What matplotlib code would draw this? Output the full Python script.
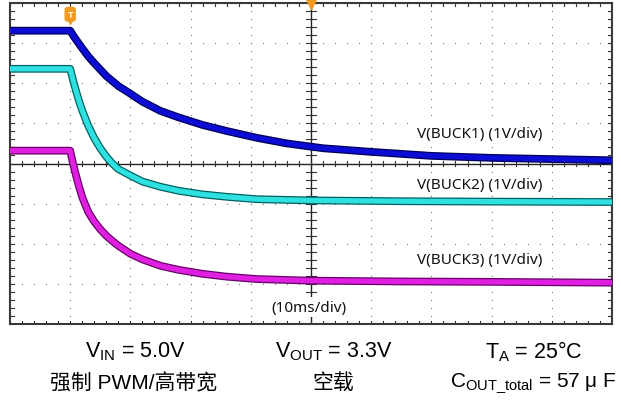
"""Buck output discharge waveform (scope capture style)"""
import matplotlib
matplotlib.use("Agg")
import matplotlib.pyplot as plt
import matplotlib.patheffects as pe
import numpy as np

plt.rcParams["font.family"] = ["Liberation Sans", "Noto Sans CJK SC", "DejaVu Sans"]
plt.rcParams["mathtext.fontset"] = "custom"
plt.rcParams["mathtext.rm"] = "Liberation Sans"
plt.rcParams["mathtext.it"] = "Liberation Sans:italic"

# ── traces: time (ms), level (divisions from bottom) ──
buck1_t = [-10, 0, 0.5, 1, 2, 3, 4, 5, 6, 8, 10, 12, 15, 18, 22, 26, 31, 36, 42, 50, 60, 70, 80, 90]
buck1_v = [7.31, 7.31, 7.19, 7.08, 6.87, 6.67, 6.50, 6.34, 6.18, 5.93, 5.74, 5.54, 5.31, 5.15,
           4.96, 4.81, 4.64, 4.50, 4.38, 4.29, 4.19, 4.14, 4.11, 4.08]

buck2_t = [-10, 0, 0.5, 1, 1.5, 2, 3, 4, 5, 6, 7, 8, 10, 12, 15, 18, 22, 26, 31, 40, 55, 70, 90]
buck2_v = [6.36, 6.36, 6.06, 5.79, 5.54, 5.32, 4.94, 4.63, 4.38, 4.17, 4.00, 3.86, 3.70, 3.55,
           3.42, 3.32, 3.23, 3.17, 3.11, 3.08, 3.06, 3.05, 3.04]

buck3_t = [-10, 0, 0.5, 1, 1.5, 2, 3, 4, 5, 6, 7, 8, 10, 12, 15, 18, 22, 26, 31, 40, 55, 70, 90]
buck3_v = [4.32, 4.32, 3.98, 3.68, 3.41, 3.16, 2.79, 2.55, 2.36, 2.20, 2.07, 1.95, 1.75, 1.61,
           1.45, 1.35, 1.25, 1.18, 1.12, 1.08, 1.06, 1.05, 1.03]

trace_labels = ["V(BUCK1) (1V/div)", "V(BUCK2) (1V/div)", "V(BUCK3) (1V/div)"]
time_label = "(10ms/div)"

cond_row1 = [r"V$_{\mathrm{IN}}$ = 5.0V", r"V$_{\mathrm{OUT}}$ = 3.3V", r"T$_{\mathrm{A}}$ = 25°C"]
cond_row2 = ["强制 PWM/高带宽", "空载", r"C$_{\mathrm{OUT\_total}}$ = 57 μ F"]

fig = plt.figure(figsize=(6.21, 4.02), dpi=100)
ax = fig.add_axes([10 / 621, 77 / 402, 602 / 621, 321 / 402])
ax.set_xlim(-10, 90)
ax.set_ylim(0, 8)
ax.set_xticks([])
ax.set_yticks([])
for s in ax.spines.values():
    s.set_color("#3a3a3a")
    s.set_linewidth(1.5)

# ── dotted graticule ──
minor_x = np.arange(-10, 90.01, 2)
minor_y = np.arange(0, 8.01, 0.2)
for gx in range(0, 90, 10):
    ax.scatter(np.full(len(minor_y), gx), minor_y, s=0.8, color="#777777", lw=0, zorder=1)
for gy in range(1, 8):
    ax.scatter(minor_x, np.full(len(minor_x), gy), s=0.8, color="#777777", lw=0, zorder=1)

# center cross with ticks
ax.axvline(40, color="#222222", lw=1.0, zorder=2)
ax.axhline(4, color="#222222", lw=1.0, zorder=2)
for mx in minor_x:
    ax.plot([mx, mx], [3.93, 4.07], color="#333333", lw=0.8, zorder=2)
    ax.plot([mx, mx], [0, 0.07], color="#333333", lw=0.8, zorder=2)
    ax.plot([mx, mx], [7.93, 8], color="#333333", lw=0.8, zorder=2)
for my in minor_y:
    ax.plot([39.2, 40.8], [my, my], color="#333333", lw=0.8, zorder=2)
    ax.plot([-10, -9.4], [my, my], color="#333333", lw=0.8, zorder=2)
    ax.plot([89.4, 90], [my, my], color="#333333", lw=0.8, zorder=2)

# ── traces ──
traces = [
    (buck1_t, buck1_v, "#0c0cd4", "#00005a"),
    (buck2_t, buck2_v, "#2fe0e0", "#006262"),
    (buck3_t, buck3_v, "#e020e0", "#6a006a"),
]
for t, v, core, edge in traces:
    ax.plot(t, v, color=core, lw=3.8, solid_capstyle="butt", solid_joinstyle="round", zorder=3,
            path_effects=[pe.Stroke(linewidth=5.6, foreground=edge), pe.Normal()])

# trace labels (white backing like the scope annotation boxes)
box = dict(boxstyle="square,pad=0.15", fc="white", ec="none")
lab_kw = dict(fontsize=11, family=["Noto Sans"], ha="left", va="center", color="#111111",
              zorder=4, bbox=box)
ax.text(57.6, 4.76, trace_labels[0], **lab_kw)
ax.text(57.6, 3.47, trace_labels[1], **lab_kw)
ax.text(57.6, 1.60, trace_labels[2], **lab_kw)
ax.text(39.6, 0.42, time_label, fontsize=11, family=["Noto Sans"], ha="center", va="center",
        color="#111111", zorder=4, bbox=box)

# trigger markers
ax.text(0, 7.72, "T", fontsize=6.5, fontweight="bold", color="white", ha="center", va="center",
        bbox=dict(boxstyle="round,pad=0.25", fc="#f39a1e", ec="#f39a1e"), zorder=5)
ax.plot([0], [7.55], marker="v", ms=4, color="#f39a1e", zorder=5)
ax.plot([40], [8.0], marker="v", ms=8, color="#f39a1e", clip_on=False, zorder=5)

# ── test conditions ──
for xc, s in zip([135, 334, 534], cond_row1):
    fig.text(xc / 621, 1 - 352 / 402, s, fontsize=15.5, ha="center", va="center")
for xc, s in zip([134, 333, 533], cond_row2):
    fig.text(xc / 621, 1 - 383 / 402, s, fontsize=15, ha="center", va="center")

plt.savefig("out.png", dpi=100)
plt.close()
